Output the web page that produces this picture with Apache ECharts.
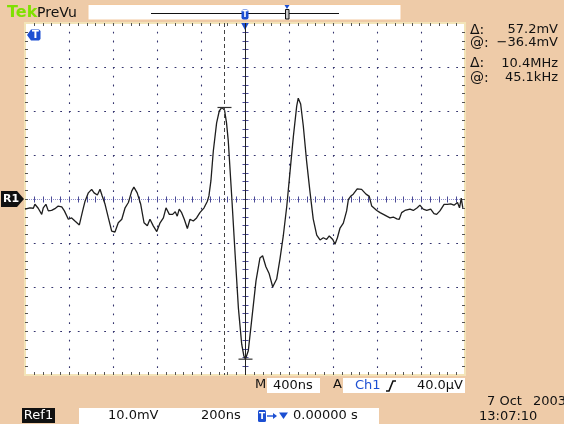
<!DOCTYPE html>
<html><head><meta charset="utf-8">
<script src="https://cdn.jsdelivr.net/npm/echarts@6/dist/echarts.min.js"></script>
<style>html,body{margin:0;padding:0;background:#EECBA8;}#c{width:564px;height:424px;}</style>
</head><body><div id="c"></div>
<script>
// ---- data (time in ns relative to trigger, voltage in mV) ----
const timeNs = [-1000,-977,-962,-955,-940,-924,-917,-905,-894,-879,-864,-849,-833,-821,-803,-788,-773,-753,-738,-727,-712,-697,-686,-671,-659,-649,-636,-621,-606,-591,-576,-560,-545,-530,-515,-505,-490,-474,-459,-444,-432,-417,-401,-386,-371,-359,-344,-329,-317,-308,-299,-288,-276,-262,-250,-235,-220,-205,-186,-171,-164,-155,-144,-129,-117,-105,-93,-84,-76,-60,-45,-30,-15,-5,2,15,30,50,68,80,95,110,126,144,159,174,190,205,220,235,242,253,265,280,295,310,326,341,356,371,383,399,409,420,432,447,462,470,480,492,510,530,550,565,576,599,614,629,644,659,674,690,701,712,727,750,765,783,795,810,826,844,859,871,886,905,920,935,950,966,975,983,990];
const voltMv = [-2.3,-2.0,-2.1,-1.2,-2.1,-3.5,-2.0,-1.2,-2.7,-2.6,-2.2,-1.6,-1.8,-2.7,-4.6,-4.3,-5.0,-5.9,-2.7,-0.5,1.4,2.2,1.4,0.9,2.2,0.7,-1.2,-4.3,-7.3,-7.5,-5.4,-4.6,-2.0,-0.8,1.8,2.7,1.4,-1.2,-5.4,-6.1,-4.6,-6.1,-7.4,-5.4,-4.3,-2.0,-3.5,-3.5,-2.9,-3.9,-2.3,-3.1,-4.6,-6.7,-4.6,-5.0,-4.3,-3.1,-2.0,-0.5,0.7,4.1,10.9,17.3,20.0,20.8,20.2,17.3,13.2,0.3,-12.5,-24.8,-33.0,-35.7,-36.4,-34.5,-27.7,-18.6,-13.4,-12.9,-15.4,-17.0,-20.0,-18.2,-13.6,-8.4,-1.6,6.4,14.3,21.1,22.9,21.6,16.6,8.6,1.8,-4.5,-8.2,-9.3,-8.8,-9.2,-8.4,-9.2,-10.3,-8.8,-6.6,-5.5,-2.7,-0.1,0.6,1.1,2.3,2.2,1.1,0.6,-1.6,-2.6,-3.1,-3.5,-3.9,-4.3,-4.1,-4.5,-4.6,-3.1,-2.6,-2.3,-2.6,-2.0,-1.4,-2.3,-2.6,-2.3,-3.3,-3.5,-2.7,-1.2,-1.2,-1.1,-1.4,-0.8,-2.0,0.2,-2.0];
const cursorTimeNs = [-94, 2];
const cursorVoltMv = [20.8, -36.4];
const timeRange = [-1000, 1000];   // 10 div x 200 ns
const timeDiv = 200;
const voltRange = [-40, 40];       // 8 div x 10 mV
const voltDiv = 10;
const readoutLabels = ['\u0394:', '@:', '\u0394:', '@:'];
const readoutValues = ['57.2mV', '\u221236.4mV', '10.4MHz', '45.1kHz'];

const BLUE = '#1c4fd2';
const FONT = '"DejaVu Sans", sans-serif';
const chart = echarts.init(document.getElementById('c'));

function graticule(params, api) {
  const tl = api.coord([timeRange[0], voltRange[1]]);
  const br = api.coord([timeRange[1], voltRange[0]]);
  const L = tl[0], T = tl[1], R = br[0], B = br[1];
  const c0 = api.coord([0, 0]);
  const x0 = Math.round(c0[0]) + 0.5, y0 = Math.round(c0[1]) + 0.5;
  const subX = (R - L) / 50, subY = (B - T) / 40;
  const ch = [];
  const dot = '#34346e';
  for (let t = timeRange[0] + timeDiv; t < timeRange[1]; t += timeDiv) {
    if (t === 0) continue;
    const x = Math.round(api.coord([t, 0])[0]) + 0.5;
    ch.push({type:'line', shape:{x1:x, y1:T, x2:x, y2:B}, style:{stroke:dot, lineWidth:1.1, lineDash:[1.8, subY-1.8]}});
  }
  for (let v = voltRange[0] + voltDiv; v < voltRange[1]; v += voltDiv) {
    if (v === 0) continue;
    const y = Math.round(api.coord([0, v])[1]) + 0.5;
    ch.push({type:'line', shape:{x1:L, y1:y, x2:R, y2:y}, style:{stroke:dot, lineWidth:1.1, lineDash:[1.8, subX-1.8]}});
  }
  // centre cross
  ch.push({type:'line', shape:{x1:L, y1:y0, x2:R, y2:y0}, style:{stroke:'#8c8cc8', lineWidth:1, lineDash:[1,1]}});
  ch.push({type:'line', shape:{x1:x0, y1:T, x2:x0, y2:B}, style:{stroke:'#8c8cc8', lineWidth:1, lineDash:[1,1]}});
  for (let i = 1; i < 50; i++) {
    const x = Math.round(L + i * subX) + 0.5;
    ch.push({type:'line', shape:{x1:x, y1:y0-3, x2:x, y2:y0+3}, style:{stroke:'#4a4a96', lineWidth:1}});
    ch.push({type:'line', shape:{x1:x, y1:T, x2:x, y2:T+3}, style:{stroke:'#555', lineWidth:1}});
    ch.push({type:'line', shape:{x1:x, y1:B-3, x2:x, y2:B}, style:{stroke:'#555', lineWidth:1}});
  }
  for (let i = 1; i < 40; i++) {
    const y = Math.round(T + i * subY) + 0.5;
    ch.push({type:'line', shape:{x1:x0-3, y1:y, x2:x0+3, y2:y}, style:{stroke:'#4a4a96', lineWidth:1}});
    ch.push({type:'line', shape:{x1:L, y1:y, x2:L+3, y2:y}, style:{stroke:'#555', lineWidth:1}});
    ch.push({type:'line', shape:{x1:R-3, y1:y, x2:R, y2:y}, style:{stroke:'#555', lineWidth:1}});
  }
  // trigger position marker at top
  ch.push({type:'polygon', shape:{points:[[c0[0]-3.8,T],[c0[0]+3.8,T],[c0[0],T+7]]}, style:{fill:BLUE}});
  // R1 reference marker at left (ground level)
  ch.push({type:'polygon', shape:{points:[[1,c0[1]-8],[17,c0[1]-8],[24,c0[1]],[17,c0[1]+8],[1,c0[1]+8]]}, style:{fill:'#111'}});
  ch.push({type:'text', x:11, y:c0[1]+0.5, style:{text:'R1', fill:'#fff', font:'bold 11px '+FONT, align:'center', verticalAlign:'middle'}});
  return {type:'group', children:ch};
}

function cursors(params, api) {
  const tl = api.coord([timeRange[0], voltRange[1]]);
  const br = api.coord([timeRange[1], voltRange[0]]);
  const p = api.coord([api.value(0), api.value(1)]);
  const x = Math.round(p[0]) + 0.5;
  const dashed = params.dataIndex === 0;
  return {type:'group', children:[
    {type:'line', shape:{x1:x, y1:tl[1], x2:x, y2:br[1]}, style:{stroke:dashed?'#444':'#222', lineWidth:1, lineDash:dashed?[4,3]:null}},
    {type:'line', shape:{x1:x-7, y1:p[1], x2:x+7, y2:p[1]}, style:{stroke:'#333', lineWidth:1.2}}
  ]};
}

function txt(x, y, s, opt) {
  opt = opt || {};
  return {type:'text', x:x, y:y, z:10, style:{text:s, fill:opt.fill||'#111', font:(opt.weight||'normal')+' '+(opt.size||13)+'px '+FONT, align:opt.align||'left', verticalAlign:'middle'}};
}

const graphics = [
  txt(7, 13, 'Tek', {fill:'#7fe000', size:16, weight:'bold'}),
  txt(37, 13, 'PreVu', {size:14}),
  {type:'rect', shape:{x:88, y:4.5, width:313, height:15.5}, style:{fill:'#fff', stroke:'#f2c9a0', lineWidth:1}},
  {type:'line', shape:{x1:151, y1:13.5, x2:339, y2:13.5}, style:{stroke:'#111', lineWidth:1.2}},
  {type:'rect', shape:{x:241.5, y:9.5, width:7, height:10, r:2}, style:{fill:BLUE}},
  txt(245, 14.5, 'T', {fill:'#fff', size:8, weight:'bold', align:'center'}),
  {type:'polygon', shape:{points:[[284.5,5],[289.5,5],[287,9]]}, style:{fill:BLUE}},
  {type:'rect', shape:{x:285.5, y:9.5, width:3.5, height:9.5}, style:{fill:'#ccc', stroke:'#111', lineWidth:1}},
  // trigger level marker
  {type:'polygon', shape:{points:[[27,35],[31,29.5],[39,29.5],[40.5,31],[40.5,39],[39,40.5],[31,40.5]]}, style:{fill:BLUE}, z:10},
  txt(35.5, 35.3, 'T', {fill:'#fff', size:10, weight:'bold', align:'center'}),
  // bottom info
  txt(255, 385, 'M', {align:'left'}),
  {type:'rect', shape:{x:267, y:378, width:53, height:15}, style:{fill:'#fff'}},
  txt(273, 385.5, '400ns'),
  txt(333, 385, 'A'),
  {type:'rect', shape:{x:343, y:378, width:122, height:15}, style:{fill:'#fff'}},
  txt(355, 385.5, 'Ch1', {fill:BLUE}),
  {type:'polyline', shape:{points:[[386,391],[389,391],[393,381],[396,381]]}, style:{stroke:'#111', lineWidth:1.6, fill:null}},
  txt(463, 385.5, '40.0\u00b5V', {align:'right'}),
  {type:'rect', shape:{x:22, y:408, width:33, height:15}, style:{fill:'#111'}},
  txt(38.5, 415.5, 'Ref1', {fill:'#fff', align:'center'}),
  {type:'rect', shape:{x:79, y:408, width:300, height:16}, style:{fill:'#fff'}},
  txt(108, 416, '10.0mV'),
  txt(201, 416, '200ns'),
  {type:'rect', shape:{x:258, y:410, width:8, height:12, r:1.5}, style:{fill:BLUE}},
  txt(262, 416.5, 'T', {fill:'#fff', size:9, weight:'bold', align:'center'}),
  {type:'line', shape:{x1:267, y1:416, x2:274, y2:416}, style:{stroke:BLUE, lineWidth:1.4}},
  {type:'polygon', shape:{points:[[273,413],[277,416],[273,419]]}, style:{fill:BLUE}},
  {type:'polygon', shape:{points:[[279,412.5],[288,412.5],[283.5,419]]}, style:{fill:BLUE}},
  txt(293, 416, '0.00000 s'),
  txt(487, 402, '7 Oct'),
  txt(533, 402, '2003'),
  txt(479, 417, '13:07:10')
];
const rowsY = [30, 43, 63.5, 78];
readoutLabels.forEach((l, i) => graphics.push(txt(470, rowsY[i], l, {size:14})));
readoutValues.forEach((v, i) => graphics.push(txt(558, rowsY[i], v, {align:'right', size:13})));

chart.setOption({
  backgroundColor: '#EECBA8',
  animation: false,
  grid: {left:25, top:23, width:440, height:352, show:true, backgroundColor:'#fff', borderColor:'#f3e4b8', borderWidth:2},
  xAxis: {type:'value', min:timeRange[0], max:timeRange[1], interval:timeDiv, show:false},
  yAxis: {type:'value', min:voltRange[0], max:voltRange[1], interval:voltDiv, show:false},
  graphic: graphics,
  series: [
    {type:'custom', renderItem:graticule, data:[[0,0]], clip:false, silent:true, z:1},
    {type:'line', data: timeNs.map((t,i)=>[t, voltMv[i]]), showSymbol:false, symbol:'none',
     lineStyle:{color:'#1e1e1e', width:1.3}, z:3, silent:true},
    {type:'custom', renderItem:cursors, data: cursorTimeNs.map((t,i)=>[t, cursorVoltMv[i]]), clip:false, silent:true, z:4}
  ]
});
</script></body></html>
